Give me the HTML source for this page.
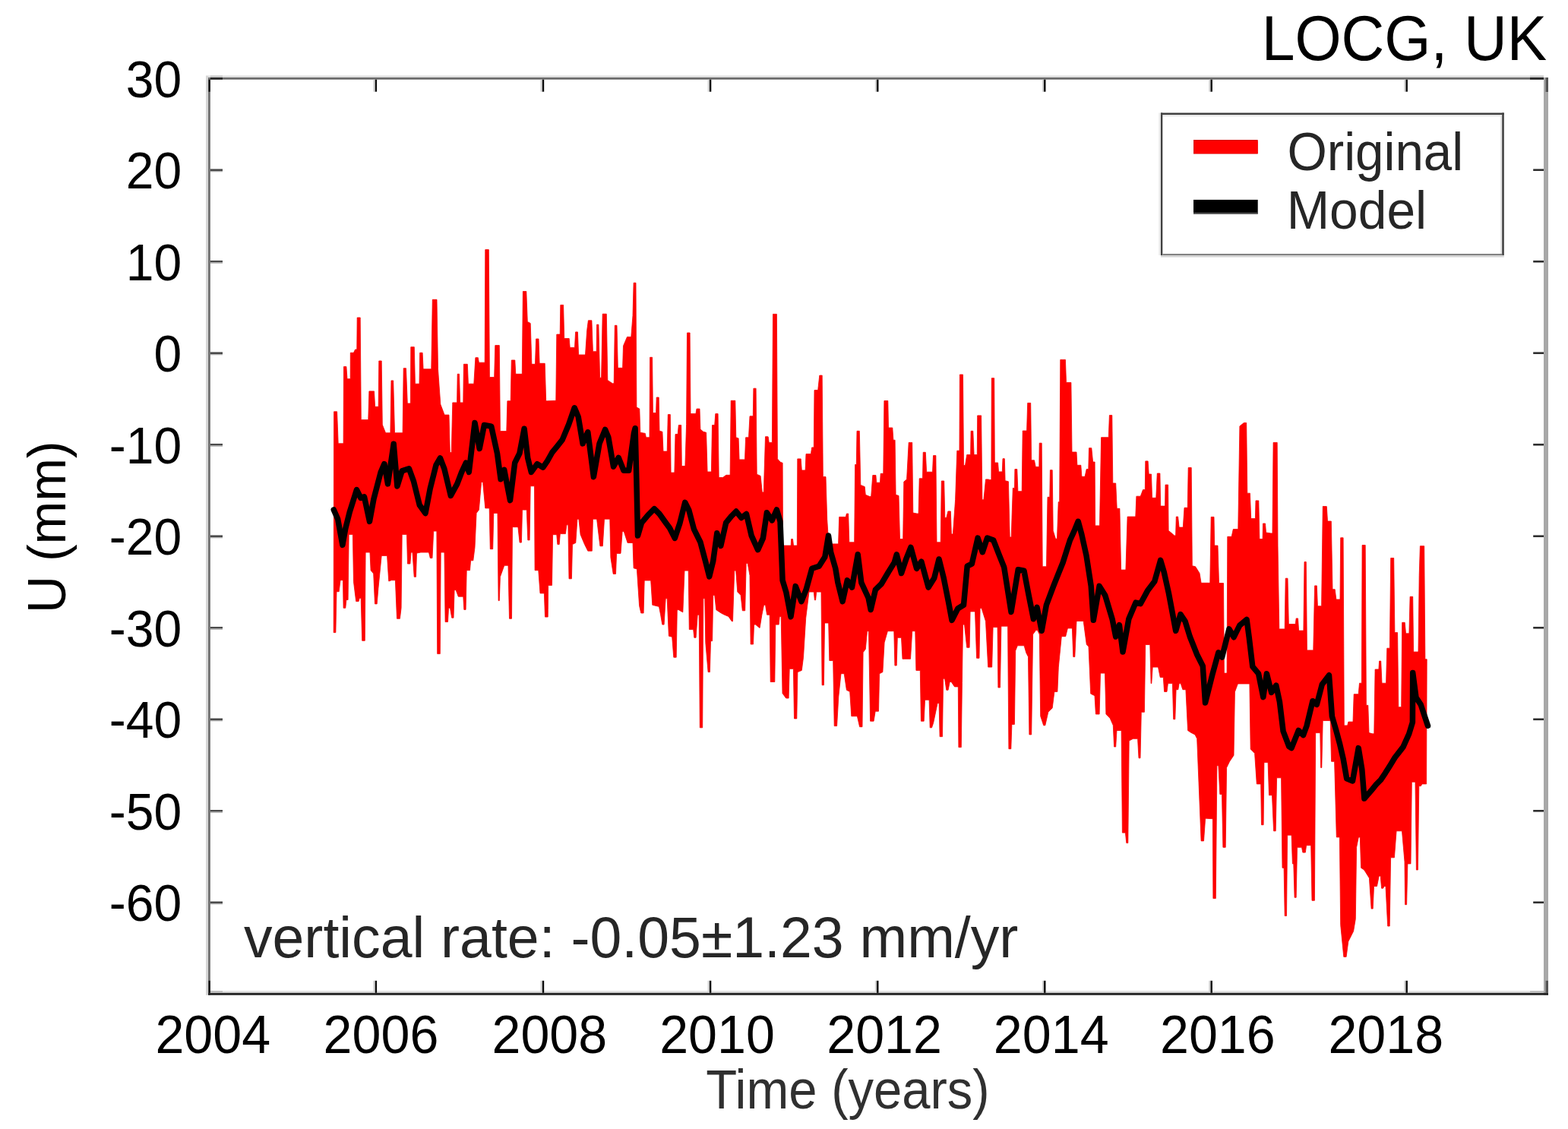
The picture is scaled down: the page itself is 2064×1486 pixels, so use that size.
<!DOCTYPE html>
<html><head><meta charset="utf-8"><title>LOCG, UK</title>
<style>
html,body{margin:0;padding:0;background:#fff;}
body{width:2064px;height:1486px;overflow:hidden;}
svg{display:block;}
</style></head><body>
<svg width="2064" height="1486" viewBox="0 0 2064 1486">
<rect x="0" y="0" width="2064" height="1486" fill="#ffffff"/>
<polygon points="439.6,541.8 443.6,541.8 445.2,583.8 452.1,583.8 452.5,482.6 455.9,482.6 457,498.7 461.2,498.7 461.3,464.3 465.5,464.3 467.6,460 469.8,460 470.2,418 474.2,418 475.3,552.6 484.8,552.6 485.9,514.9 492.5,514.9 493.6,535.3 498.2,535.3 498.8,475 502.2,475 503.3,559 507.6,569.8 513.9,569.8 515,500.9 517.7,500.9 519.5,569.8 530.1,569.8 531.2,484.7 534.5,484.7 536.3,531 540.4,531 540.8,456.7 545.3,456.7 546.4,505.2 552,505.2 552.7,464.3 556.1,464.3 557.1,485.8 567.8,485.8 569.3,394.3 575,394.3 576.5,485.8 579.8,532.1 585.1,546.1 591,546.1 592.3,595.6 594.3,595.6 595.8,529.9 601.6,529.9 602.2,492.3 604.5,492.3 605.6,529.9 609.8,529.9 610.4,479.3 615.3,479.3 616.4,505.2 623.8,505.2 625.9,470.7 629.3,470.7 630.4,477.2 638.2,477.2 638.8,328.6 643.3,328.6 644.4,496.6 650.7,496.6 651.8,454.6 657.3,454.6 658.4,567.6 666.8,567.6 667.9,527.8 672.2,527.8 673.3,474 677.8,474 678.8,492.3 687.3,492.3 688.4,383.5 692.8,383.5 694.3,423.4 698.2,425.5 699.9,479.3 704.5,479.3 705.6,446 709,446 710.1,478.3 717.2,478.3 718.7,527.8 720.7,527.8 731.8,527.3 732.8,440.1 737.2,440.1 737.8,401.4 741.6,401.4 742.7,445.5 749.2,445.5 750.2,457.4 756.5,457.4 757.6,436.9 760.4,436.9 761.6,467 770.5,467 772.7,434.7 774.4,421.8 778.9,421.8 780.4,462.7 785.2,462.7 785.6,427.2 787.9,427.2 789.6,497.2 791.6,497.2 793.2,413.2 798.3,413.2 799.8,500.4 806.2,504.7 808.2,504.7 809.3,428.3 812,428.3 813.3,484.3 819.6,484.3 820.5,455.2 825.5,443.4 830.8,443.4 833,415.4 834.1,372.3 837,372.3 837.9,536 841.8,538.1 842.8,569.3 849.3,570.4 850.4,575.8 855,575.8 855.6,470.3 858.6,470.3 859.4,543.5 863.6,543.5 864.2,523 867.2,523 868,567.2 871.9,568.3 873,594.1 878.2,594.1 879.3,545.6 882.3,545.6 883.1,622.1 887.9,622.1 889,571.5 892.2,571.5 893.3,559.6 896.7,559.6 897.3,613.5 901.9,613.5 903.6,558.6 904.5,438 908.1,438 909,544.6 915.9,544.6 917,538.1 921,538.1 921.9,565 925.8,568.3 929.6,569.3 931.1,621 936.4,621 937.5,559.6 940.7,559.6 941.8,544.6 945.1,544.6 946.2,628.5 951.5,628.5 955.8,625.3 961.1,625.3 962.2,527.3 967.8,527.3 968.8,575.8 972.1,576.9 973.1,604.9 980.5,604.9 981.6,575.8 985.5,575.8 987,547.8 991.3,547.8 991.9,511.2 995.1,511.2 996.2,624.2 1001.1,626.4 1003.3,647.9 1005.3,647.9 1007.5,574.7 1010.8,574.7 1011.2,574.9 1012.2,582.4 1016.4,582.4 1017.5,413.4 1022.4,413.4 1023.4,603.9 1027.3,608.3 1030.1,609.3 1030.5,718.1 1041.2,718.1 1041.6,709.5 1043.5,709.5 1044.5,718.1 1049.3,718.1 1049.8,603.9 1054.2,603.9 1055.3,619 1060.1,619 1061,597.5 1067.4,597.5 1068.7,588.9 1071.3,588.9 1072,513.5 1076.7,513.5 1078.8,494.1 1082.2,494.1 1083.3,627.6 1087,627.6 1088.7,683.6 1090.8,715.9 1103.6,715.9 1104.7,680.4 1113.3,680.4 1114.4,676.1 1116.7,676.1 1117.8,713.8 1124.7,713.8 1125.6,611.5 1127.3,611.5 1128,567.3 1131.3,567.3 1132.8,638.4 1138.2,640.6 1139.3,651.3 1144.7,653.5 1146.7,653.5 1148.8,625.5 1152.9,625.5 1153.7,635.2 1158.5,635.2 1159.2,623.3 1162.8,623.3 1163.9,527.5 1168.8,527.5 1169.5,563 1174.8,563 1175.9,579.2 1178.1,579.2 1179.1,651.3 1183,652.4 1184.5,709.5 1188.7,709.5 1189.8,634.1 1193.6,630.9 1196.2,582.4 1200.7,582.4 1201.8,675 1207.1,676.1 1209.1,676.1 1210.2,629.8 1214.5,629.8 1215.2,595.3 1218.3,595.3 1219.6,621.2 1227.5,621.2 1228.5,599.6 1231.9,599.6 1233,713.8 1238.2,713.8 1239.3,633 1242.7,633 1243.8,681.5 1245.8,681.5 1247.9,672.9 1251.3,672.9 1252.4,703 1254.4,703 1257.6,657.8 1259.8,593.2 1263,593.2 1263.4,493 1267.5,493 1268.5,612.6 1270.5,612.6 1272.7,598.6 1277.6,598.6 1278.1,567.3 1280.8,567.3 1282.1,598.6 1286.3,598.6 1286.7,546.9 1291.6,546.9 1292.9,657.8 1294.9,657.8 1297.5,630.9 1300.8,630.9 1302.9,631.6 1304.9,631.6 1305.3,497.7 1308.7,497.7 1309.3,609 1313.6,609 1314.5,620.9 1319.3,620.9 1320,603.7 1322.3,603.7 1323.1,632.7 1327.4,633.8 1329.2,707 1331.2,707 1333.3,642.4 1335.5,642.4 1335.9,617.6 1338.8,617.6 1339.9,646.7 1345.2,646.7 1346.2,567 1351.6,567 1352.7,530.4 1356.7,530.4 1357.6,605.8 1361.5,605.8 1363.2,614.4 1367.8,614.4 1368.2,583.2 1371.2,583.2 1372.2,745.8 1377.5,745.8 1379,654.3 1381.8,654.3 1382.4,618.7 1385.2,618.7 1386.2,698.4 1389.5,709.2 1391.5,709.2 1393.2,660.7 1394.7,660.7 1395.8,473.4 1402.4,473.4 1403.5,503.5 1409.9,503.5 1411,595 1417,595 1417.9,612.3 1422.8,612.3 1423.9,627.3 1428.1,627.3 1430.2,617.6 1432.8,617.6 1433.5,589.7 1436.8,589.7 1438.6,608 1441.1,608 1441.6,691.9 1447.5,691.9 1449.6,575.7 1459.3,575.7 1460.4,546.6 1463.8,546.6 1464.8,636 1468.7,636 1470.2,669.3 1473.9,669.3 1475.6,750.1 1481.9,750.1 1484.1,680.1 1494.8,680.1 1495.9,653.2 1501.3,653.2 1504.5,644.6 1507.3,644.6 1507.8,606.9 1511.1,606.9 1512.2,624.1 1515.5,624.1 1516.5,655.3 1521.8,655.3 1523.3,623 1526.9,623 1527.7,666.1 1533.6,666.1 1534,638.1 1537.6,638.1 1538.1,698.4 1543.5,702.7 1545.6,704.9 1547.6,704.9 1548.3,680.1 1550.6,680.1 1552.1,694.1 1557.3,694.1 1559,668.3 1563.3,668.3 1564.2,615.5 1568.2,615.5 1569.3,744.7 1573.6,745.8 1579,754.4 1581.1,767.3 1592.8,767.3 1594.2,680.4 1598,680.4 1598.7,718.1 1603,718.1 1604.5,767.6 1610.5,767.6 1611.4,886.1 1615.1,886.1 1615.8,706.3 1621.2,706.3 1623.3,696.6 1629.8,696.6 1631.9,560.9 1637.3,556.6 1640.7,556.6 1641.8,649.2 1645.4,649.2 1646.7,682.6 1652.4,682.6 1653,658.9 1656.8,658.9 1657.9,709.5 1662.1,709.5 1662.5,689 1665.5,689 1666.5,700.9 1673,702 1675,702 1676.1,582.4 1681.2,582.4 1682,718.1 1683.8,827.9 1691.2,827.9 1692.2,761.2 1695,761.2 1696.3,821.5 1705.2,821.5 1706.2,813.9 1708.5,813.9 1709.6,830.1 1715.9,830.1 1717,739.6 1719.3,739.6 1720.4,855.9 1728.8,855.9 1730.6,770.9 1733.3,770.9 1734.4,797.8 1739.6,797.8 1741.2,674.13 1741.3,666.46 1746.3,666.6 1747.5,686 1752.3,686 1754,775.7 1757.2,775.7 1758.9,789 1764,789 1764.7,707.8 1768.1,707.8 1769.3,954.9 1773.7,954.9 1774.9,950.1 1781,950.1 1782.2,913.7 1788.2,913.7 1789.5,899.2 1792.4,899.2 1793.1,717.5 1797.2,717.5 1798.4,928.3 1800.8,928.3 1802,964.6 1806.8,965.8 1808.8,965.8 1810.1,881 1814.9,881 1815.6,870.1 1817.7,870.1 1819,899.2 1824.6,899.2 1825.8,853.2 1829.4,853.2 1830.7,734.5 1834.7,734.5 1835.9,832.6 1839.6,832.6 1840.8,930.7 1844.7,930.7 1845.7,819.3 1849.2,819.3 1850.5,833.8 1854.9,833.8 1856.1,785.3 1859.7,785.3 1860.6,858 1867,858 1868.2,757.5 1869.4,718.7 1874.7,718.7 1875.9,867.7 1878.2,867.7 1877.6,1031.9 1871.8,1031.9 1870.4,1034.6 1867.8,1034.6 1866.4,1145 1864.4,1145 1863,1029.2 1858.3,1029.2 1857,1136.9 1852.9,1136.9 1851.6,1190.7 1849.6,1190.7 1849,1134.2 1845.5,1093.8 1838.1,1093.8 1835.4,1128.8 1830.6,1128.8 1829.2,1219 1826.7,1219 1824,1166.5 1822,1166.5 1820.6,1169.2 1818.6,1169.2 1817.2,1153 1815.2,1153 1812.5,1166.5 1808.5,1166.5 1807.2,1196.1 1805.1,1196.1 1802.4,1155.7 1795.7,1145 1791.6,1142.3 1790.3,1101.9 1788.3,1101.9 1785.6,1115.3 1784.3,1209.6 1781.6,1225.7 1774.8,1239.2 1772.1,1259.4 1768.8,1259.4 1764.7,1217.6 1763.4,1101.9 1759.3,1101.9 1756.6,1002.3 1752.6,1002.3 1751.2,948.5 1741.2,948.5 1739.8,1010.4 1738.6,1010.4 1737.8,964.6 1731.7,964.6 1730.4,1185.3 1727,1185.3 1725.7,1112.7 1719.6,1112.7 1718.3,1122.1 1714.9,1122.1 1713.5,1115.3 1707.5,1115.3 1706.2,1181.3 1704.1,1181.3 1702.8,1136.9 1701.4,1136.9 1700.1,1099.2 1694.6,1099.2 1693.5,1205.5 1691.2,1205.5 1690.1,1142.3 1688,1142.3 1686.6,1023.8 1680.6,1023.8 1679.2,1093.8 1676.6,1093.8 1674.5,1046.7 1670.5,1046.7 1669.1,1003.6 1663.9,1003.6 1663.1,1085.7 1660.5,1085.7 1659.7,1031.9 1654.3,1031.9 1651.6,991.5 1646.2,986.1 1644.9,900 1629.4,900 1625.4,910.8 1624,994.2 1618.6,1002.3 1614.6,1010.4 1613.2,1115.3 1609.9,1115.3 1608.5,1045.4 1605.8,1045.4 1603.9,1007.7 1601.9,1007.7 1600.3,1182.6 1596.9,1182.6 1596.4,1077.7 1588.6,1077.3 1586.6,1077.3 1584.5,1106.9 1581.1,1106.9 1575.7,972.3 1573,966.9 1567.6,964.2 1563.6,961.5 1560.9,907.7 1556.9,907.7 1554.2,899.6 1552.2,899.6 1550.8,907.7 1548.1,907.7 1546.8,946.7 1544.7,946.7 1543.4,899.6 1537.4,899.6 1536,910.4 1532.6,910.4 1531.3,891.5 1527.2,891.5 1524.5,878.1 1517.2,878.1 1515.8,899.6 1515.1,899.6 1513.8,848.5 1507.7,848.5 1506.4,937.3 1502.3,937.3 1501,997.8 1499,997.8 1497.6,972.3 1491.6,972.3 1486.2,975 1484.8,1109.6 1482.8,1109.6 1481.4,1096.1 1477.4,1096.1 1476.1,961.5 1470,961.5 1468.7,983 1466.6,983 1465.3,954.8 1461.2,945.4 1455.9,940 1454.5,886.1 1448.5,886.1 1447.1,940 1442.4,940 1441,915.7 1435.7,913.1 1433,851.1 1430.3,848.5 1426.2,817.5 1417,817.5 1414.8,864.6 1412.8,864.6 1411.4,826.9 1405.4,826.9 1402.7,837.7 1397.3,837.7 1393.3,878.1 1391.9,910.4 1387.9,910.4 1385.2,931.9 1379.8,937.3 1375.8,954.8 1373.7,954.8 1369.7,942.7 1368.3,835 1365.6,829.6 1363.6,829.6 1359.6,835 1357.7,966.9 1354.9,966.9 1353.5,864.6 1350.8,859.2 1348.1,849.8 1339.4,849.8 1336.7,856.5 1335.4,953.4 1331.9,953.4 1330.8,985.7 1327.9,985.7 1326.6,824.2 1317.9,824.2 1316.5,905 1313.9,905 1313.1,825.6 1307.1,825.6 1305.7,878.1 1300.7,878.1 1297.5,817.8 1292.1,800.6 1290.1,800.6 1289,866.3 1285.6,866.3 1283.5,804.9 1277.1,804.9 1276.1,852.3 1272.7,852.3 1269.5,822.1 1267.5,822.1 1266.4,898.6 1265.3,983.6 1261.9,983.6 1261.3,903.9 1256.5,903.9 1252.2,897.5 1250.2,897.5 1248.1,908.3 1245.8,908.3 1243.6,893.2 1241.6,893.2 1240.5,969.6 1237.1,969.6 1236.1,925.5 1234.1,925.5 1228.7,951.3 1226.5,957.8 1224.2,957.8 1223.1,921.2 1217.5,921.2 1216.2,949.2 1212.4,949.2 1211.3,882.4 1205.9,882.4 1204.8,830.7 1200.7,830.7 1198.5,867.3 1188,867.3 1186.5,839.3 1181.3,839.3 1180.2,876 1177.9,876 1176.8,830.7 1168.4,830.7 1164.1,845.8 1161.9,884.6 1157.6,886.7 1156.5,936.2 1152.2,936.2 1150.1,949.2 1145.6,949.2 1143.5,830.7 1141.5,830.7 1139.3,854.4 1136.1,858.7 1135,956.7 1131.6,956.7 1128.4,942.7 1120.8,942.7 1118.7,910.4 1114.4,908.3 1111.2,886.7 1107,886.7 1103.8,916.9 1101.6,955.6 1098.2,955.6 1096.7,869.5 1091.8,869.5 1090.7,820 1085.5,820 1084.4,901.8 1082.1,901.8 1081,779.1 1074.7,779.1 1073.6,789.8 1072.4,789.8 1071.3,779.1 1065,779.1 1060.7,813.5 1057.5,865.2 1055.3,882.4 1049.9,884.6 1048.8,945.9 1045.5,945.9 1044.4,880.3 1039.2,880.3 1038.1,919 1034.7,919 1030,912.6 1028.2,811.4 1026.2,811.4 1025.2,822.1 1020.8,822.1 1019.8,897.5 1014.2,897.5 1013.2,809.2 1009.6,809.2 1007.5,796.3 1005.5,796.3 1002.9,809.2 1000.1,826.4 999.9,826.4 994.5,822.1 992.5,822.1 991.5,848 988.1,848 987,757.5 984.2,741.4 982.2,741.4 980.7,803.8 977.3,803.8 975.1,783.4 970.8,779.1 968.7,751.1 966.7,751.1 964.5,817.8 963.3,817.8 959,811.4 953.6,809.2 949.3,807 942.8,802.7 940.7,783.4 938.7,783.4 937.6,843.7 935.5,843.7 934.4,884.6 932.1,884.6 928.8,845.8 927.8,787.7 925.8,787.7 924.7,957.8 921.3,957.8 920.2,809.2 918.2,809.2 916.1,839.3 913.8,839.3 912.7,828.6 907.3,828.6 906.2,751.1 901,751.1 898.9,804.46 898.8,805.85 893.3,802.7 891.3,802.7 890.2,865.2 886.8,865.2 884.7,838.3 880.4,837.2 878.2,787.7 876.2,787.7 874.1,822.1 871.8,822.1 869.6,809.2 867.5,798.4 858.8,796.3 856.7,764 848.2,764 847.1,807 843.8,807 841.6,797.4 838.4,748.9 834.1,747.8 833,714.5 826.1,714.5 821.2,699.4 819.2,699.4 817,728.4 811.6,728.4 810.5,755.4 807.2,755.4 803.9,733.8 802.8,683.2 795.5,683.2 793.3,718.8 789.9,718.8 785.6,683.2 780.4,683.2 779.3,725.2 773.8,725.2 769.5,716.6 764.1,703.7 761.9,683.2 759.9,683.2 757.8,714.5 753.5,716.6 752.4,761.8 749,761.8 747.9,690.8 745.9,690.8 744.4,702.6 737.3,702.6 736.2,716.6 733.9,716.6 732.8,703.7 727.6,703.7 726.5,770.4 721.6,770.4 721.3,802.72 721.2,812.1 717.5,812.1 716.4,780.9 711,780.9 708.8,750.7 704.1,750.7 703.5,639.8 698.2,639.8 697.1,710.9 694.8,710.9 693.3,671.1 687.5,671.1 686.4,714.1 684.1,714.1 681.9,693.7 674.5,693.7 673.5,814.3 670.5,814.3 669,744.3 663.8,744.3 658.4,759.3 657.3,790.6 656.1,790.6 655,675.4 649.8,675.4 648.7,722.7 645.3,722.7 644.2,668.9 638.8,668.9 635.6,634.5 633.6,634.5 630.4,671.1 627.1,675.4 625,720.6 622.8,737.8 619.6,737.8 618.5,750.7 614.2,750.7 613.1,802.4 610.8,802.4 609.8,785.2 603.3,785.2 600.1,776.6 598.1,776.6 597,813.2 594.7,813.2 592.5,800.3 590.5,800.3 589.5,818.6 586.1,818.6 585,727 580.2,727 579.3,860.6 575.7,860.6 574.9,699.1 570.7,699.1 569,734.6 566.3,734.6 564.5,727 553.9,727 548.5,728.1 547.5,759.3 545.2,759.3 543,727 541,727 539.9,742.1 536.5,742.1 535.5,703.4 529.2,703.4 528.1,800.3 526.4,814.3 522.5,814.3 520.4,763.7 515.2,763.7 511.8,765.02 511.7,764.24 509.6,731.4 502.2,731.4 497.9,774.4 496.2,794.9 493.5,794.9 491.7,755 488.1,750.7 487,727 481.1,727 480.3,843.3 476.7,843.3 475.2,787.3 473.2,787.3 472.1,791.6 468.7,791.6 465.5,765.8 464.4,703.4 459.2,703.4 458.1,789.5 455.9,789.5 454.8,800.3 452.1,800.3 451.5,763.7 448,763.7 446.2,778.7 443,778.7 441.9,832.6 439.2,832.6" fill="#ff0000" stroke="#f40000" stroke-width="0.8" stroke-linejoin="miter"/>
<polyline points="439.3,671 444.7,683.3 450.9,717.4 454.8,695.7 460.2,674.1 469.5,644.7 474.9,655.5 479.5,653.9 486.5,686.4 491.9,657 501.2,621.4 505.9,610.6 510.5,636.9 518.2,584.3 522.9,640 529.1,619.9 538.4,616.8 544.6,633.8 552.3,664.8 560,675.6 566.2,643.1 574,612.2 579.4,602.9 584.8,616.8 593.3,652.4 601.8,636.9 607.6,621.6 613.4,609.1 617.3,621.4 625,556.4 631.2,590.5 637.4,559.5 646.7,561.1 654.5,596.7 659.1,630.7 663.7,618.3 671.5,658.6 677.7,609.1 683.9,596.7 690.1,564.2 694.7,602.9 699.3,621.4 707.1,610.6 714.8,615.2 720.8,606.3 726.7,595.7 733.5,587.3 740.2,578.9 748.6,558.7 756.2,536.8 761.2,548.6 767.1,583.9 773.8,568.8 781.4,627.7 789,583.9 796.6,565.4 800.8,575.5 807.5,614.2 814.2,602.4 821,619.3 827.7,619.3 834.4,570.5 836.1,563.7 837.8,629.4 839.5,705.1 844.5,688.2 852.9,678.1 861.3,669.7 868.1,676.5 876.5,688.2 881.5,695 888.3,708.4 895,688.2 901.7,661.3 906.8,671.4 913.5,696.6 921.9,713.5 928.6,738.7 933.7,758.9 938.7,738.7 943.8,701.7 948.8,718.5 955.6,688.2 962.3,679.8 969,673.1 975.8,681.5 982.5,676.5 989.2,705.1 997.6,723.6 1004.4,708.4 1009.4,674.8 1016.2,684.9 1022.4,671 1027,686.4 1030.1,763.8 1034.8,779.3 1041,811.8 1047.2,771.6 1054.9,791.7 1061.1,776.2 1068.8,748.3 1078.1,745.2 1085.9,732.9 1090.5,705 1093.6,726.7 1099.8,748.3 1102.9,766.9 1109.1,791.7 1115.3,763.8 1121.5,773.1 1129.2,729.8 1133.8,766.9 1143.1,787 1146.2,802.5 1152.4,776.2 1160.2,768.5 1169.4,753 1177.2,740.6 1180.3,729.8 1186.5,754.5 1192.7,736 1198.9,720.5 1206.6,748.3 1212.8,739.1 1222.1,773.1 1229.8,760.7 1236,736 1242.2,760.7 1248.4,791.7 1253,816.4 1260.8,801 1268.5,796.3 1273.2,745.2 1279.3,742.2 1287.1,708.1 1293.3,726.7 1299.5,708.1 1307.7,711.1 1315.5,731.2 1321.7,746.7 1331,805.5 1340.2,749.8 1348,751.3 1354.2,783.8 1360.4,814.8 1365,799.3 1371.2,830.3 1377.4,796.2 1386.7,771.4 1392.9,755.8 1399.1,740.5 1408.4,711.1 1413.8,699.4 1419.2,686.3 1423.8,703.3 1430,731.2 1436.2,771.4 1439.3,816.3 1447.1,771.4 1454.8,783.8 1464.1,814.8 1468.7,838 1473.4,822.5 1478,858.1 1485.8,814.8 1495,793.1 1501.2,794.7 1510.5,777.6 1519.8,765.2 1527.6,737.4 1532.2,752.9 1538.4,780.7 1547.7,830.3 1553.9,808.6 1560.1,817.9 1566.3,838 1575.5,861.2 1583.3,876.7 1586.5,925 1590,911.4 1596.2,886.7 1603.9,858.8 1608.6,865 1617.9,827.9 1624.1,838.7 1631.8,823.2 1641.1,815.5 1644.2,838.7 1648.8,877.4 1656.6,886.7 1662.8,917.6 1667.4,886.7 1673.6,911.4 1679.8,902.2 1684.4,923.8 1689.1,962.5 1696.8,982.6 1700,984.6 1709.3,961.4 1715.5,967.6 1720.1,955.2 1727.9,922.7 1733.3,927.4 1740.2,901.1 1749.5,888.7 1753.4,942.8 1758.8,961.4 1763.4,978.4 1768.1,998.5 1772.7,1024.8 1780.5,1027.9 1788.2,984.6 1792.8,1012.5 1795.9,1051.1 1805.2,1040.3 1811.4,1032.6 1817.6,1026.4 1823.8,1017.1 1830,1007.2 1836.2,997 1841.6,990.1 1847,983.1 1854.7,966 1859.4,950.6 1859.7,885.6 1864,918.1 1870.2,927.4 1879.5,955.2" fill="none" stroke="#000000" stroke-width="7.5" stroke-linejoin="round" stroke-linecap="round"/>
<rect x="271.00" y="99.50" width="3.00" height="1210.30" fill="#d6d6d6"/><rect x="274.00" y="99.50" width="1758.00" height="2.50" fill="#dedede"/><rect x="274.00" y="102.00" width="1758.00" height="2.70" fill="#6a6a6a"/><rect x="274.00" y="102.00" width="2.90" height="1207.80" fill="#737373"/><rect x="276.90" y="1304.10" width="1755.10" height="2.70" fill="#e2e2e2"/><rect x="2032.00" y="102.00" width="6.00" height="1207.80" fill="#a8a8a8"/><rect x="274.00" y="1306.80" width="1764.00" height="3.00" fill="#252525"/>
<rect x="276.90" y="222.41" width="16.10" height="2.60" fill="#4a4a4a"/><rect x="276.90" y="225.01" width="16.10" height="1.30" fill="#b0b0b0"/><rect x="2018.20" y="222.41" width="13.80" height="2.60" fill="#2d2d2d"/><rect x="276.90" y="342.92" width="16.10" height="2.60" fill="#4a4a4a"/><rect x="276.90" y="345.52" width="16.10" height="1.30" fill="#b0b0b0"/><rect x="2018.20" y="342.92" width="13.80" height="2.60" fill="#2d2d2d"/><rect x="276.90" y="463.43" width="16.10" height="2.60" fill="#4a4a4a"/><rect x="276.90" y="466.03" width="16.10" height="1.30" fill="#b0b0b0"/><rect x="2018.20" y="463.43" width="13.80" height="2.60" fill="#2d2d2d"/><rect x="276.90" y="583.94" width="16.10" height="2.60" fill="#4a4a4a"/><rect x="276.90" y="586.54" width="16.10" height="1.30" fill="#b0b0b0"/><rect x="2018.20" y="583.94" width="13.80" height="2.60" fill="#2d2d2d"/><rect x="276.90" y="704.45" width="16.10" height="2.60" fill="#4a4a4a"/><rect x="276.90" y="707.05" width="16.10" height="1.30" fill="#b0b0b0"/><rect x="2018.20" y="704.45" width="13.80" height="2.60" fill="#2d2d2d"/><rect x="276.90" y="824.96" width="16.10" height="2.60" fill="#4a4a4a"/><rect x="276.90" y="827.56" width="16.10" height="1.30" fill="#b0b0b0"/><rect x="2018.20" y="824.96" width="13.80" height="2.60" fill="#2d2d2d"/><rect x="276.90" y="945.47" width="16.10" height="2.60" fill="#4a4a4a"/><rect x="276.90" y="948.07" width="16.10" height="1.30" fill="#b0b0b0"/><rect x="2018.20" y="945.47" width="13.80" height="2.60" fill="#2d2d2d"/><rect x="276.90" y="1065.98" width="16.10" height="2.60" fill="#4a4a4a"/><rect x="276.90" y="1068.58" width="16.10" height="1.30" fill="#b0b0b0"/><rect x="2018.20" y="1065.98" width="13.80" height="2.60" fill="#2d2d2d"/><rect x="276.90" y="1186.49" width="16.10" height="2.60" fill="#4a4a4a"/><rect x="276.90" y="1189.09" width="16.10" height="1.30" fill="#b0b0b0"/><rect x="2018.20" y="1186.49" width="13.80" height="2.60" fill="#2d2d2d"/><rect x="276.90" y="99.50" width="16.10" height="2.50" fill="#c8c8c8"/><rect x="276.90" y="102.00" width="16.10" height="2.70" fill="#262626"/><rect x="2014.00" y="99.50" width="18.00" height="2.50" fill="#c8c8c8"/><rect x="2014.00" y="102.00" width="18.00" height="2.70" fill="#262626"/><rect x="2034.60" y="102.00" width="3.40" height="19.00" fill="#555555"/><rect x="2034.60" y="1290.80" width="3.40" height="16.00" fill="#555555"/><rect x="276.90" y="1304.10" width="16.10" height="2.70" fill="#bdbdbd"/><rect x="2014.00" y="1304.10" width="18.00" height="2.70" fill="#bdbdbd"/><rect x="274.20" y="104.70" width="2.60" height="16.00" fill="#0a0a0a"/><rect x="272.20" y="104.70" width="2.00" height="16.00" fill="#d0d0d0"/><rect x="274.20" y="1290.80" width="2.60" height="16.00" fill="#0a0a0a"/><rect x="272.20" y="1290.80" width="2.00" height="16.00" fill="#d0d0d0"/><rect x="493.50" y="104.70" width="2.60" height="16.00" fill="#0a0a0a"/><rect x="491.50" y="104.70" width="2.00" height="16.00" fill="#d0d0d0"/><rect x="493.50" y="1290.80" width="2.60" height="16.00" fill="#0a0a0a"/><rect x="491.50" y="1290.80" width="2.00" height="16.00" fill="#d0d0d0"/><rect x="713.60" y="104.70" width="2.60" height="16.00" fill="#0a0a0a"/><rect x="711.60" y="104.70" width="2.00" height="16.00" fill="#d0d0d0"/><rect x="713.60" y="1290.80" width="2.60" height="16.00" fill="#0a0a0a"/><rect x="711.60" y="1290.80" width="2.00" height="16.00" fill="#d0d0d0"/><rect x="933.70" y="104.70" width="2.60" height="16.00" fill="#0a0a0a"/><rect x="931.70" y="104.70" width="2.00" height="16.00" fill="#d0d0d0"/><rect x="933.70" y="1290.80" width="2.60" height="16.00" fill="#0a0a0a"/><rect x="931.70" y="1290.80" width="2.00" height="16.00" fill="#d0d0d0"/><rect x="1153.90" y="104.70" width="2.60" height="16.00" fill="#0a0a0a"/><rect x="1151.90" y="104.70" width="2.00" height="16.00" fill="#d0d0d0"/><rect x="1153.90" y="1290.80" width="2.60" height="16.00" fill="#0a0a0a"/><rect x="1151.90" y="1290.80" width="2.00" height="16.00" fill="#d0d0d0"/><rect x="1373.90" y="104.70" width="2.60" height="16.00" fill="#0a0a0a"/><rect x="1371.90" y="104.70" width="2.00" height="16.00" fill="#d0d0d0"/><rect x="1373.90" y="1290.80" width="2.60" height="16.00" fill="#0a0a0a"/><rect x="1371.90" y="1290.80" width="2.00" height="16.00" fill="#d0d0d0"/><rect x="1593.30" y="104.70" width="2.60" height="16.00" fill="#0a0a0a"/><rect x="1591.30" y="104.70" width="2.00" height="16.00" fill="#d0d0d0"/><rect x="1593.30" y="1290.80" width="2.60" height="16.00" fill="#0a0a0a"/><rect x="1591.30" y="1290.80" width="2.00" height="16.00" fill="#d0d0d0"/><rect x="1850.30" y="104.70" width="2.60" height="16.00" fill="#0a0a0a"/><rect x="1848.30" y="104.70" width="2.00" height="16.00" fill="#d0d0d0"/><rect x="1850.30" y="1290.80" width="2.60" height="16.00" fill="#0a0a0a"/><rect x="1848.30" y="1290.80" width="2.00" height="16.00" fill="#d0d0d0"/>
<g style="font-family:'Liberation Sans',Arial,Helvetica,sans-serif"><text transform="translate(239.17,127.50) scale(1.0000,1.0400)" text-anchor="end" font-size="66.0" fill="#000">30</text><text transform="translate(239.17,248.01) scale(1.0000,1.0400)" text-anchor="end" font-size="66.0" fill="#000">20</text><text transform="translate(239.17,368.52) scale(1.0000,1.0400)" text-anchor="end" font-size="66.0" fill="#000">10</text><text transform="translate(239.17,489.03) scale(1.0000,1.0400)" text-anchor="end" font-size="66.0" fill="#000">0</text><text transform="translate(239.17,609.54) scale(1.0000,1.0400)" text-anchor="end" font-size="66.0" fill="#000">-10</text><text transform="translate(239.17,730.05) scale(1.0000,1.0400)" text-anchor="end" font-size="66.0" fill="#000">-20</text><text transform="translate(239.17,850.56) scale(1.0000,1.0400)" text-anchor="end" font-size="66.0" fill="#000">-30</text><text transform="translate(239.17,971.07) scale(1.0000,1.0400)" text-anchor="end" font-size="66.0" fill="#000">-40</text><text transform="translate(239.17,1091.58) scale(1.0000,1.0400)" text-anchor="end" font-size="66.0" fill="#000">-50</text><text transform="translate(239.17,1212.09) scale(1.0000,1.0400)" text-anchor="end" font-size="66.0" fill="#000">-60</text><text transform="translate(280.26,1386.00) scale(1.0000,1.0350)" text-anchor="middle" font-size="68.2" fill="#000">2004</text><text transform="translate(501.47,1386.00) scale(1.0000,1.0350)" text-anchor="middle" font-size="68.2" fill="#000">2006</text><text transform="translate(723.32,1386.00) scale(1.0000,1.0350)" text-anchor="middle" font-size="68.2" fill="#000">2008</text><text transform="translate(944.05,1386.00) scale(1.0000,1.0350)" text-anchor="middle" font-size="68.2" fill="#000">2010</text><text transform="translate(1164.07,1386.00) scale(1.0000,1.0350)" text-anchor="middle" font-size="68.2" fill="#000">2012</text><text transform="translate(1383.71,1386.00) scale(1.0000,1.0350)" text-anchor="middle" font-size="68.2" fill="#000">2014</text><text transform="translate(1602.82,1386.00) scale(1.0000,1.0350)" text-anchor="middle" font-size="68.2" fill="#000">2016</text><text transform="translate(1824.27,1386.00) scale(1.0000,1.0350)" text-anchor="middle" font-size="68.2" fill="#000">2018</text><text transform="translate(2036.30,79.30) scale(1.0000,1.0500)" text-anchor="end" font-size="78.6" fill="#000">LOCG, UK</text><text transform="translate(929.19,1459.00) scale(1.0000,1.0800)" text-anchor="start" font-size="67.0" fill="#303030">Time (years)</text><text transform="translate(85.80,807.07) rotate(-90) scale(1.0000,1.0300)" text-anchor="start" font-size="68.0" fill="#000">U (mm)</text><text transform="translate(320.92,1260.40)" text-anchor="start" font-size="75.23" fill="#262626">vertical rate: -0.05±1.23 mm/yr</text></g>
<rect x="1528.00" y="148.50" width="451.80" height="187.50" fill="#ffffff"/><rect x="1525.50" y="148.50" width="2.50" height="187.50" fill="#e4e4e4"/><rect x="1530.30" y="151.00" width="446.90" height="2.30" fill="#e6e6e6"/><rect x="1974.90" y="151.00" width="2.30" height="183.00" fill="#e6e6e6"/><rect x="1528.00" y="148.50" width="451.80" height="2.50" fill="#414141"/><rect x="1528.00" y="148.50" width="2.30" height="187.50" fill="#414141"/><rect x="1977.20" y="148.50" width="2.60" height="187.50" fill="#414141"/><rect x="1530.30" y="334.00" width="446.90" height="2.10" fill="#828282"/><rect x="1528.00" y="336.10" width="451.80" height="2.40" fill="#d2d2d2"/><rect x="1571.00" y="184.00" width="84.70" height="18.60" fill="#d81010"/><rect x="1572.20" y="185.40" width="83.50" height="16.60" fill="#ff0000"/><rect x="1571.00" y="262.90" width="84.70" height="18.70" fill="#000000"/><rect x="1571.00" y="279.80" width="84.70" height="1.80" fill="#555555"/>
<g style="font-family:'Liberation Sans',Arial,Helvetica,sans-serif"><text transform="translate(1694.40,224.30) scale(1.0000,1.0400)" text-anchor="start" font-size="67.3" fill="#262626">Original</text><text transform="translate(1693.71,300.50) scale(1.0000,1.0500)" text-anchor="start" font-size="67.7" fill="#262626">Model</text></g>
</svg>
</body></html>
